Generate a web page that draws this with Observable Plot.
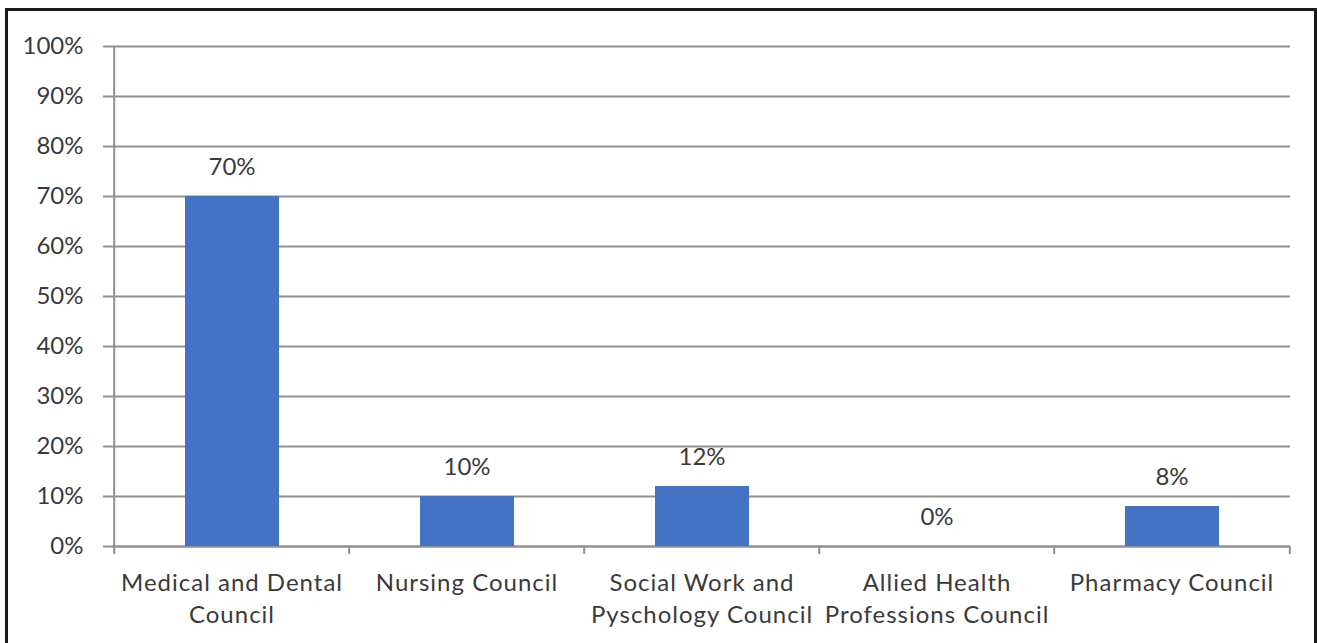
<!DOCTYPE html>
<html>
<head>
<meta charset="utf-8">
<script src="https://cdn.jsdelivr.net/npm/d3@7"></script>
<script src="https://cdn.jsdelivr.net/npm/@observablehq/plot@0.6"></script>
<style>
  html, body { margin: 0; padding: 0; background: #fff; overflow: hidden; }
  #chart { position: absolute; left: 0; top: 0; }
  #frame { position: absolute; left: 5px; top: 8px; width: 1312px; height: 700px;
           border: 3px solid #1a1a1a; box-sizing: border-box; pointer-events: none; }
</style>
</head>
<body>
<div id="chart"></div>
<div id="frame"></div>
<script>
const categories = [
  "Medical and Dental Council",
  "Nursing Council",
  "Social Work and Pyschology Council",
  "Allied Health Professions Council",
  "Pharmacy Council"
];
const tickLabels = [
  "Medical and Dental\nCouncil",
  "Nursing Council",
  "Social Work and\nPyschology Council",
  "Allied Health\nProfessions Council",
  "Pharmacy Council"
];
const values = [0.70, 0.10, 0.12, 0.00, 0.08];
const valueLabels = ["70%", "10%", "12%", "0%", "8%"];
const yTicks = [0, 0.1, 0.2, 0.3, 0.4, 0.5, 0.6, 0.7, 0.8, 0.9, 1.0];

const W = 1317, H = 643;
const mL = 112, mR = 27;
const half = (W - mL - mR) / categories.length / 2;
const gridColor = "#8f8f8f";
const textColor = "#3a3a3a";
const font = "Lato, 'Open Sans', sans-serif";

const chart = Plot.plot({
  width: W,
  height: H,
  marginLeft: mL,
  marginRight: mR,
  marginTop: 46,
  marginBottom: 97,
  style: { fontFamily: font, background: "transparent", color: textColor },
  x: { domain: categories, padding: 0, axis: null },
  y: { domain: [0, 1], axis: null },
  marks: [
    Plot.gridY(yTicks, { stroke: gridColor, strokeOpacity: 1, strokeWidth: 2 }),
    Plot.axisY(yTicks, {
      tickFormat: d => Math.round(d * 100) + "%",
      tickSize: 9, tickPadding: 20, fontSize: 24,
      stroke: gridColor, strokeWidth: 2, fill: textColor
    }),
    Plot.ruleY([0], { stroke: gridColor, strokeWidth: 2 }),
    Plot.ruleX(categories.slice(0, 1), { x: d => d, dx: -half, y1: 1, y2: -0.016, stroke: gridColor, strokeWidth: 2 }),
    Plot.ruleX(categories.slice(1), { x: d => d, dx: -half, y1: 0, y2: -0.016, stroke: gridColor, strokeWidth: 2 }),
    Plot.ruleX(categories.slice(-1), { x: d => d, dx: half, y1: 0, y2: -0.016, stroke: gridColor, strokeWidth: 2 }),
    Plot.barY(categories, { x: categories, y: values, fill: "#4472C4", insetLeft: 71, insetRight: 70 }),
    Plot.text(categories, { x: categories, y: values, text: valueLabels, dy: -29, fontSize: 24, fill: textColor }),
    Plot.text(categories, {
      x: categories, text: tickLabels, frameAnchor: "bottom",
      lineAnchor: "top", dy: 22, lineHeight: 1.33, fontSize: 24, fill: textColor
    })
  ]
});
const textGroups = chart.querySelectorAll('g[aria-label="text"]');
const xLabelGroup = textGroups[textGroups.length - 1];
if (xLabelGroup) xLabelGroup.setAttribute("letter-spacing", "1");
document.getElementById("chart").appendChild(chart);
</script>
</body>
</html>
